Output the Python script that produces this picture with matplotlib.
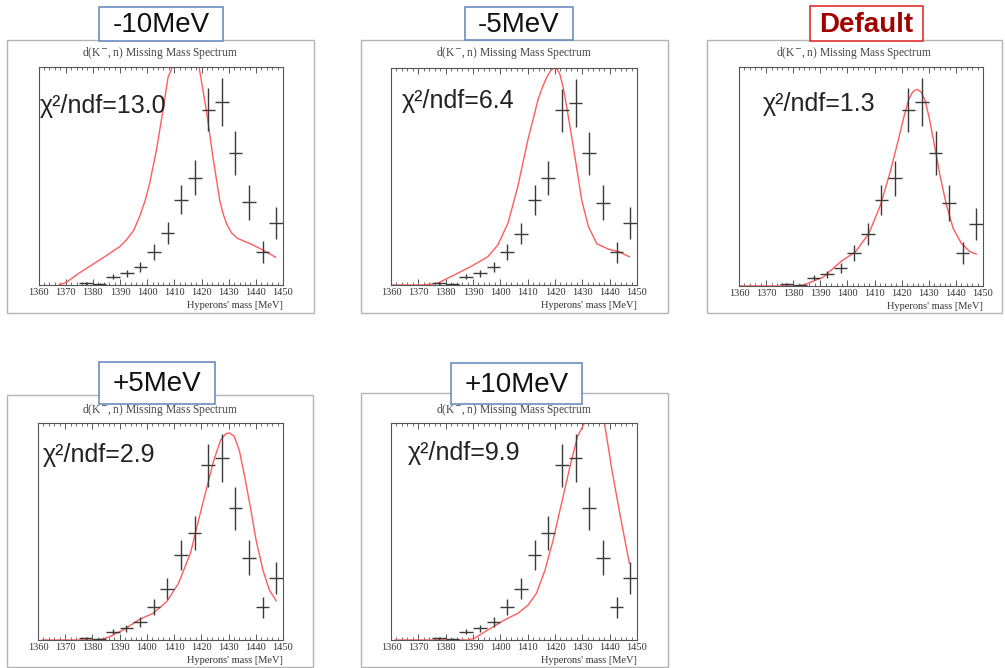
import matplotlib
matplotlib.use("Agg")
import matplotlib.pyplot as plt
from matplotlib.patches import Rectangle
from matplotlib.ticker import MultipleLocator

# ---------------- data ----------------
bin_centers = [1377.5, 1382.5, 1387.5, 1392.5, 1397.5, 1402.5, 1407.5, 1412.5,
               1417.5, 1422.5, 1427.5, 1432.5, 1437.5, 1442.5, 1447.5]
counts = [0.008, 0.004, 0.038, 0.053, 0.081, 0.150, 0.237, 0.392,
          0.493, 0.805, 0.840, 0.606, 0.379, 0.150, 0.285]
count_err = [0.006, 0.004, 0.012, 0.015, 0.023, 0.037, 0.050, 0.068,
             0.080, 0.100, 0.110, 0.100, 0.080, 0.050, 0.073]

panel_labels = ["-10MeV", "-5MeV", "Default", "+5MeV", "+10MeV"]
chi2_values = ["13.0", "6.4", "1.3", "2.9", "9.9"]

curve_m10_x = [1367.5, 1370.2, 1375.0, 1380.0, 1385.0, 1389.9, 1392.3, 1395.0,
               1397.2, 1399.2, 1400.9, 1403.4, 1405.8, 1407.7, 1409.3, 1414.0,
               1419.1, 1421.8, 1424.2, 1426.7, 1428.0, 1429.2, 1431.0, 1433.2,
               1437.8, 1442.7, 1447.3]
curve_m10_y = [0.0, 0.012, 0.055, 0.095, 0.135, 0.176, 0.206, 0.250,
               0.313, 0.385, 0.466, 0.618, 0.800, 0.954, 1.0, 1.30,
               1.0, 0.800, 0.588, 0.389, 0.325, 0.282, 0.240, 0.214,
               0.190, 0.160, 0.127]

curve_m5_x = [1360.0, 1372.0, 1377.0, 1383.1, 1389.2, 1395.4, 1399.1, 1402.8,
              1406.4, 1410.1, 1413.8, 1415.5, 1416.9, 1418.5, 1419.7, 1420.8,
              1421.8, 1423.0, 1424.3, 1427.3, 1429.8, 1432.2, 1435.3, 1439.6,
              1443.3, 1447.2]
curve_m5_y = [0.0, 0.0, 0.008, 0.046, 0.085, 0.130, 0.185, 0.285,
              0.454, 0.670, 0.854, 0.915, 0.955, 0.990, 1.0, 0.993,
              0.970, 0.910, 0.820, 0.590, 0.390, 0.270, 0.190, 0.165,
              0.154, 0.130]

curve_def_x = [1360.0, 1382.5, 1384.5, 1391.0, 1397.5, 1403.0, 1407.9, 1412.2,
               1415.8, 1418.3, 1420.7, 1422.5, 1424.1, 1425.6, 1427.1, 1428.6,
               1430.2, 1432.3, 1434.1, 1436.5, 1439.0, 1442.0, 1445.1, 1447.5]
curve_def_y = [0.0, 0.0, 0.008, 0.040, 0.111, 0.157, 0.240, 0.370,
               0.522, 0.644, 0.766, 0.849, 0.887, 0.898, 0.887, 0.849,
               0.766, 0.629, 0.507, 0.370, 0.263, 0.195, 0.157, 0.146]

curve_p5_x = [1361.6, 1382.6, 1386.3, 1391.3, 1397.3, 1402.3, 1407.3, 1411.6,
              1416.0, 1419.0, 1422.1, 1424.6, 1427.1, 1428.9, 1430.2, 1432.0,
              1433.9, 1435.7, 1438.2, 1440.1, 1442.6, 1445.0, 1447.5]
curve_p5_y = [0.0, 0.0, 0.015, 0.046, 0.095, 0.123, 0.177, 0.261,
              0.400, 0.553, 0.707, 0.829, 0.922, 0.949, 0.955, 0.940,
              0.876, 0.768, 0.599, 0.461, 0.323, 0.230, 0.181]

curve_p10_x = [1361.6, 1388.0, 1390.5, 1395.4, 1401.5, 1406.4, 1410.1, 1413.2,
               1416.3, 1419.3, 1422.4, 1425.5, 1428.3, 1430.8, 1434.5, 1438.1,
               1440.8, 1443.9, 1447.2]
curve_p10_y = [0.0, 0.0, 0.008, 0.046, 0.092, 0.123, 0.160, 0.215,
               0.320, 0.460, 0.630, 0.800, 0.940, 1.0, 1.30, 1.0,
               0.785, 0.570, 0.354]

curves_x = [curve_m10_x, curve_m5_x, curve_def_x, curve_p5_x, curve_p10_x]
curves_y = [curve_m10_y, curve_m5_y, curve_def_y, curve_p5_y, curve_p10_y]

# ---------------- layout (pixels) ----------------
W, H = 1005, 668
fig = plt.figure(figsize=(W / 100, H / 100), dpi=100)
fig.patch.set_facecolor("white")

def fx(px):
    return px / W

def fy(py):
    return 1 - py / H

# outer frame, axes box, title box, subtitle y, chi2 position (axes fraction)
layout = [
    dict(frame=(7, 40, 314, 313), ax=(38.5, 67, 283, 285), box=(99, 7, 223, 41), sub=53, chi=(0.006, 0.79)),
    dict(frame=(361, 40, 668, 313), ax=(391, 68, 637, 285), box=(465, 7, 573, 40), sub=53, chi=(0.045, 0.815)),
    dict(frame=(707, 40, 1002, 313), ax=(739, 67, 983, 286), box=(810, 6, 923, 41), sub=53, chi=(0.098, 0.80)),
    dict(frame=(7, 395, 313, 667), ax=(38, 423, 283, 640), box=(99, 362, 215, 404), sub=410, chi=(0.02, 0.82)),
    dict(frame=(361, 393, 668, 667), ax=(391, 423, 637, 640), box=(451, 363, 582, 404), sub=410, chi=(0.07, 0.83)),
]

serif = "Liberation Serif"
sans = "Liberation Sans"

for i, L in enumerate(layout):
    x0, y0, x1, y1 = L["frame"]
    fig.patches.append(Rectangle((fx(x0), fy(y1)), fx(x1 - x0), (y1 - y0) / H,
                                 transform=fig.transFigure, fill=False,
                                 edgecolor="#b4b4b4", linewidth=1.0, zorder=1))
    # ROOT subtitle
    fig.text(fx((x0 + x1) / 2), fy(L["sub"]), "d(K$^{-}$, n) Missing Mass Spectrum",
             ha="center", va="center", fontsize=8.3, family=serif, color="#444444")

    ax0, ay0, ax1, ay1 = L["ax"]
    ax = fig.add_axes([fx(ax0), fy(ay1), fx(ax1 - ax0), (ay1 - ay0) / H])
    ax.set_xlim(1360, 1450)
    ax.set_ylim(0, 1)
    ax.plot(curves_x[i], curves_y[i], color="#ff5c5c", linewidth=1.0, zorder=2)
    ax.errorbar(bin_centers, counts, xerr=2.5, yerr=count_err, fmt="none",
                ecolor="#3a3a3a", elinewidth=1.0, capsize=0, zorder=3)
    ax.xaxis.set_major_locator(MultipleLocator(10))
    ax.xaxis.set_minor_locator(MultipleLocator(2))
    ax.tick_params(axis="x", which="both", direction="in", top=True, bottom=True,
                   color="#555555", labelsize=7.5, pad=2)
    ax.tick_params(axis="x", which="major", length=4, width=0.7)
    ax.tick_params(axis="x", which="minor", length=2, width=0.6)
    ax.tick_params(axis="y", left=False, right=False, labelleft=False)
    for lab in ax.get_xticklabels():
        lab.set_family(serif)
        lab.set_color("#333333")
    for s in ax.spines.values():
        s.set_color("#555555")
        s.set_linewidth(0.8)
    ax.text(1.0, -0.095, "Hyperons' mass [MeV]", transform=ax.transAxes,
            ha="right", va="center", fontsize=7.5, family=serif, color="#333333")
    ax.text(L["chi"][0], L["chi"][1], "\u03c7\u00b2/ndf=" + chi2_values[i],
            transform=ax.transAxes, ha="left", va="baseline", fontsize=18,
            family=sans, color="#222222")

    # label box on top
    bx0, by0, bx1, by1 = L["box"]
    is_default = panel_labels[i] == "Default"
    fig.patches.append(Rectangle((fx(bx0), fy(by1)), fx(bx1 - bx0), (by1 - by0) / H,
                                 transform=fig.transFigure, facecolor="white",
                                 edgecolor="#e03030" if is_default else "#6b8cc0",
                                 linewidth=1.2, zorder=5))
    fig.text(fx((bx0 + bx1) / 2), fy((by0 + by1) / 2 + 1), panel_labels[i],
             ha="center", va="center", fontsize=20, family=sans,
             fontweight="bold" if is_default else "normal",
             color="#a00000" if is_default else "#111111", zorder=6)

fig.savefig("out.png", dpi=100, facecolor="white")
